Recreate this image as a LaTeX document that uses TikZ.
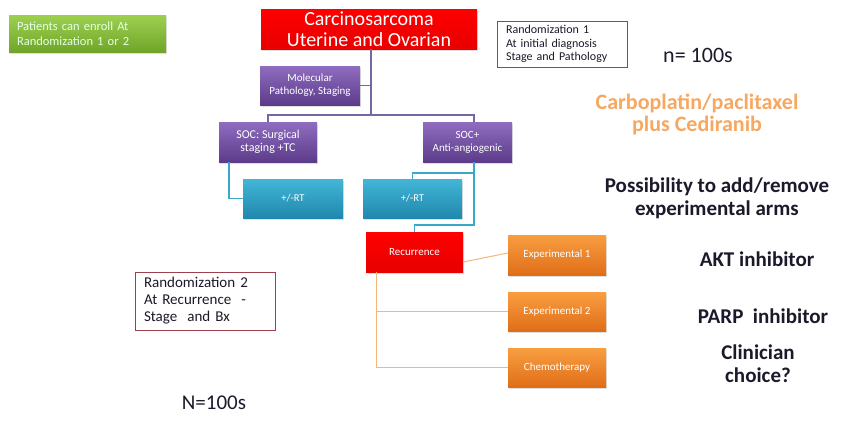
\documentclass[tikz,border=0pt]{standalone}
\usepackage{fontspec}
\setmainfont{Carlito}
\usetikzlibrary{shadows}
\definecolor{purD}{HTML}{5C3C8A}
\definecolor{purL}{HTML}{8F6CC0}
\definecolor{purline}{HTML}{7468A2}
\definecolor{tealT}{HTML}{43B6D6}
\definecolor{tealB}{HTML}{2088AE}
\definecolor{tealline}{HTML}{3AA8C8}
\definecolor{oraT}{HTML}{F89E40}
\definecolor{oraB}{HTML}{E06E18}
\definecolor{oraline}{HTML}{F5B678}
\definecolor{grnT}{HTML}{9ED050}
\definecolor{grnB}{HTML}{70A52A}
\definecolor{redbox}{HTML}{FF0000}
\definecolor{redD}{HTML}{E80000}
\definecolor{maroon}{HTML}{A0404C}
\definecolor{carbo}{HTML}{F6A862}
\definecolor{txtdark}{HTML}{1A1A2A}
\tikzset{
  bx/.style={rectangle, inner sep=1pt, align=center, text=white,
    drop shadow={shadow xshift=1.2pt, shadow yshift=-1.5pt, opacity=0.25}},
  purbox/.style={bx, top color=purL, bottom color=purD},
  tealbox/.style={bx, top color=tealT, bottom color=tealB},
  orabox/.style={bx, top color=oraT, bottom color=oraB, font=\fontsize{11}{13}\selectfont},
  redbx/.style={bx, top color=redbox, bottom color=redD},
  randbox/.style={rectangle, draw=maroon, line width=0.8pt, fill=white, align=left, text=txtdark,
    inner ysep=1pt, drop shadow={shadow xshift=1pt, shadow yshift=-1pt, opacity=0.15}},
  pline/.style={draw=purline, line width=1.6pt},
  tline/.style={draw=tealline, line width=1.4pt},
  oline/.style={draw=oraline, line width=1pt},
  rtxt/.style={align=center, text=txtdark, font=\fontsize{21}{23}\selectfont\bfseries},
}
\begin{document}
\begin{tikzpicture}[x=1pt,y=-1pt]
\useasboundingbox (0,0) rectangle (846,421);
% boxes
\node[bx, top color=grnT, bottom color=grnB, minimum width=157, minimum height=37, text=white!90!green,
  font=\fontsize{12.5}{15}\selectfont, align=left, inner xsep=8pt, text width=141pt] (grn) at (87.5,33.5) {Patients can enroll At\\Randomization 1 or 2};
\node[redbx, minimum width=216, minimum height=40, font=\fontsize{20}{20.5}\selectfont] (top) at (369,29) {Carcinosarcoma\\Uterine and Ovarian};
\node[purbox, minimum width=100, minimum height=39, font=\fontsize{11}{13}\selectfont] (mol) at (310,85.5) {Molecular\\Pathology, Staging};
\node[randbox, minimum height=46, inner xsep=9pt, text width=112pt, font=\fontsize{12}{13.5}\selectfont] (r1) at (562,44) {Randomization 1\\At initial diagnosis\\Stage and Pathology};
\node[purbox, minimum width=98, minimum height=40, font=\fontsize{12}{12.5}\selectfont] (soc1) at (268,142) {SOC: Surgical\\staging +TC};
\node[purbox, minimum width=89, minimum height=40, font=\fontsize{11}{13}\selectfont] (soc2) at (467.5,142) {SOC+\\Anti-angiogenic};
\node[tealbox, minimum width=100, minimum height=39, font=\fontsize{10.5}{12}\selectfont] (rt1) at (293,198.5) {+/-RT};
\node[tealbox, minimum width=99, minimum height=39, font=\fontsize{10.5}{12}\selectfont] (rt2) at (412.5,198.5) {+/-RT};
\node[redbx, minimum width=97, minimum height=40, font=\fontsize{11}{13}\selectfont] (rec) at (414.5,252) {Recurrence};
\node[orabox, minimum width=98, minimum height=40] (e1) at (557,255) {Experimental 1};
\node[orabox, minimum width=98, minimum height=39] (e2) at (557,311.5) {Experimental 2};
\node[orabox, minimum width=98, minimum height=39] (ch) at (557,367.5) {Chemotherapy};
\node[randbox, minimum height=58, inner xsep=9pt, text width=122pt, font=\fontsize{15}{17}\selectfont] (r2) at (205,301) {Randomization 2\\At Recurrence \ -\\Stage \ and Bx};
% texts
\node[align=center, text=txtdark, font=\fontsize{22}{24}\selectfont] (n1) at (698,55) {n= 100s};
\node[rtxt, text=carbo, font=\fontsize{22}{22}\selectfont\bfseries] (carbo) at (697,114) {Carboplatin/paclitaxel\\plus Cediranib};
\node[rtxt] (poss) at (717,198.5) {Possibility to add/remove\\experimental arms};
\node[rtxt] (akt) at (757,259) {AKT inhibitor};
\node[rtxt] (parp) at (763,316) {PARP \ inhibitor};
\node[rtxt] (clin) at (758,364) {Clinician\\choice?};
\node[align=center, text=txtdark, font=\fontsize{21}{24}\selectfont] (n2) at (214,403) {N=100s};
% connectors
\coordinate (j1) at (371,115);
\draw[pline] (371,49) -- (j1);
\draw[pline] (mol.east) -- (mol.east -| j1);
\draw[pline] (soc1.north) |- (j1);
\coordinate (j2) at (474,115);
\draw[pline] (j1) -- (j2) -- (soc2.north -| j2);
\coordinate (s1) at (229,162);
\draw[tline] (s1) |- (rt1.west);
\coordinate (s2) at (474,162);
\coordinate (k1) at (474,225);
\coordinate (k2) at (474,173);
\draw[tline] (s2) -- (k1) -| (rec.north);
\draw[tline] (k2) -| (rt2.north);
\draw[oline] ([yshift=-10pt]rec.east) -- ([yshift=2pt]e1.west);
\coordinate (rb) at (376,272);
\draw[oline] (rb) |- (ch.west);
\draw[oline] (rb |- e2.west) -- (e2.west);
\end{tikzpicture}
\end{document}
